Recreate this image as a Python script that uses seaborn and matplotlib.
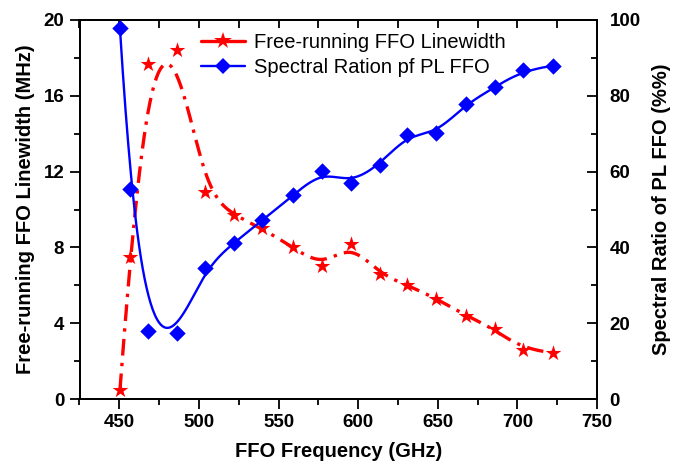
import numpy as np
import matplotlib
matplotlib.use("Agg")
import matplotlib.pyplot as plt
from matplotlib.ticker import MultipleLocator
from matplotlib.lines import Line2D
import seaborn as sns

# ---- data ----
freq_ghz = [450.4, 456.7, 468.2, 486.3, 504.1, 521.9, 539.7, 559.0, 577.5,
            595.3, 613.5, 630.9, 649.2, 667.6, 685.8, 703.6, 722.1]
linewidth_mhz = [0.47, 7.5, 17.7, 18.4, 10.9, 9.7, 9.0, 8.0, 7.0,
                 8.2, 6.6, 6.0, 5.3, 4.4, 3.7, 2.6, 2.45]
spectral_ratio = [97.8, 55.4, 18.0, 17.3, 34.6, 41.2, 47.1, 53.7, 60.1,
                  57.0, 61.8, 69.7, 70.1, 77.8, 82.2, 86.8, 87.9]
x_ticks = [450, 500, 550, 600, 650, 700, 750]
left_ticks = [0, 4, 8, 12, 16, 20]
right_ticks = [0, 20, 40, 60, 80, 100]
legend_labels = ["Free-running FFO Linewidth", "Spectral Ration pf PL FFO"]


def bspline_curve(cx, cy, num=600, k=3):
    """Clamped uniform cubic B-spline using the data points as control points
    (the 'B-spline' connection style of the original plot)."""
    cx = np.asarray(cx, float)
    cy = np.asarray(cy, float)
    n = len(cx)
    t = np.concatenate([np.zeros(k + 1), np.arange(1, n - k), np.full(k + 1, n - k)])
    u = np.linspace(0, n - k, num)
    N = np.zeros((num, len(t) - 1))
    for i in range(len(t) - 1):
        N[:, i] = ((u >= t[i]) & (u < t[i + 1])).astype(float)
    N[-1, n - 1] = 1.0
    for d in range(1, k + 1):
        Nn = np.zeros((num, len(t) - 1 - d))
        for i in range(len(t) - 1 - d):
            a = np.zeros(num)
            b = np.zeros(num)
            if t[i + d] - t[i] > 0:
                a = (u - t[i]) / (t[i + d] - t[i])
            if t[i + d + 1] - t[i + 1] > 0:
                b = (t[i + d + 1] - u) / (t[i + d + 1] - t[i + 1])
            Nn[:, i] = a * N[:, i] + b * N[:, i + 1]
        N = Nn
    return N @ cx, N @ cy


sns.set_style("ticks")
plt.rcParams['font.family'] = ['Liberation Sans', 'DejaVu Sans']
plt.rcParams.update({"text.color": "black", "axes.labelcolor": "black",
                     "xtick.color": "black", "ytick.color": "black",
                     "axes.edgecolor": "black"})

RED = "#ff0000"
BLUE = "#0000ff"

fig = plt.figure(figsize=(6.84, 4.70), dpi=100)
ax = fig.add_axes([79.5 / 684, 1 - 399 / 470, (597 - 79.5) / 684, (399 - 20) / 470])
ax2 = ax.twinx()

# red curve + stars (left axis)
rx, ry = bspline_curve(freq_ghz, linewidth_mhz)
sns.lineplot(x=rx, y=ry, ax=ax, color=RED, linewidth=2.4, sort=False,
             estimator=None, legend=False)
ax.lines[-1].set_linestyle((0, (5, 2.2, 1, 2.2)))
sns.scatterplot(x=freq_ghz, y=linewidth_mhz, ax=ax, marker="*", s=140,
                color=RED, edgecolor=RED, linewidth=0, legend=False, zorder=4)

# blue curve + diamonds (right axis)
bx, by = bspline_curve(freq_ghz, spectral_ratio)
sns.lineplot(x=bx, y=by, ax=ax2, color=BLUE, linewidth=1.7, sort=False,
             estimator=None, legend=False)
sns.scatterplot(x=freq_ghz, y=spectral_ratio, ax=ax2, marker="D", s=70,
                color=BLUE, edgecolor=BLUE, linewidth=0, legend=False, zorder=4)

ax.set_xlim(425, 750)
ax.set_ylim(0, 20)
ax2.set_ylim(0, 100)

ax.set_xticks(x_ticks)
ax.xaxis.set_minor_locator(MultipleLocator(25))
ax.set_yticks(left_ticks)
ax.yaxis.set_minor_locator(MultipleLocator(2))
ax2.set_yticks(right_ticks)
ax2.yaxis.set_minor_locator(MultipleLocator(10))

tick_font = dict(fontsize=13.5, fontweight="bold", color="black")
ax.set_xticklabels([str(v) for v in x_ticks], **tick_font)
ax.set_yticklabels([str(v) for v in left_ticks], **tick_font)
ax2.set_yticklabels([str(v) for v in right_ticks], **tick_font)

ax.tick_params(axis="both", which="major", direction="out", length=7, width=1.3,
               color="black", pad=4)
ax.tick_params(axis="both", which="minor", direction="out", length=4, width=1.3,
               color="black")
ax2.tick_params(axis="y", which="major", direction="in", length=7, width=1.3, pad=9,
                color="black")
ax2.tick_params(axis="y", which="minor", direction="in", length=4, width=1.3,
                color="black")

top = ax.secondary_xaxis("top")
top.set_xticks(x_ticks)
top.xaxis.set_minor_locator(MultipleLocator(25))
top.tick_params(axis="x", which="major", direction="in", length=6, width=1.3,
                labeltop=False, color="black")
top.tick_params(axis="x", which="minor", direction="in", length=6, width=1.3,
                color="black")
top.spines["top"].set_linewidth(1.3)

for a in (ax, ax2):
    for s in a.spines.values():
        s.set_linewidth(1.3)
        s.set_color("black")
        s.set_visible(True)

label_font = dict(fontsize=14.5, fontweight="bold", color="black")
ax.set_xlabel("FFO Frequency (GHz)", labelpad=8, **label_font)
ax.set_ylabel("Free-running FFO Linewidth (MHz)", labelpad=6, **label_font)
ax2.set_ylabel("Spectral Ratio of PL FFO (%%)", labelpad=8, **label_font)

handles = [
    Line2D([], [], color=RED, linewidth=2.4, linestyle="-", marker="*",
           markersize=13, markeredgewidth=0),
    Line2D([], [], color=BLUE, linewidth=1.7, linestyle="-", marker="D",
           markersize=8.5, markeredgewidth=0),
]
leg = ax2.legend(handles, legend_labels, loc="upper left",
                 bbox_to_anchor=(201 / 684, 1 - 33 / 470),
                 bbox_transform=fig.transFigure, frameon=False, fontsize=14.5,
                 borderpad=0, borderaxespad=0, handlelength=2.2,
                 handletextpad=0.45, labelspacing=0.32)
for txt in leg.get_texts():
    txt.set_color("black")

fig.savefig("out.png", dpi=100)
